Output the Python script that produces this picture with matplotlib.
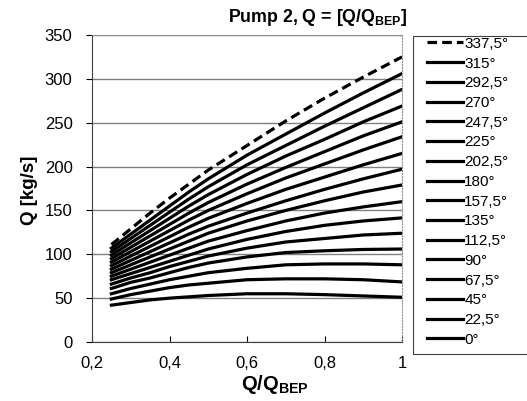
import matplotlib
matplotlib.use("Agg")
from matplotlib import pyplot as plt
from matplotlib.patches import Rectangle

# data
q_ratio = [0.25, 0.3, 0.35, 0.4, 0.45, 0.5, 0.6, 0.7, 0.8, 0.9, 1.0]
angles = ["0°", "22,5°", "45°", "67,5°", "90°", "112,5°", "135°", "157,5°",
          "180°", "202,5°", "225°", "247,5°", "270°", "292,5°", "315°", "337,5°"]
q_0 = [42, 45, 48, 50, 51.5, 53, 55, 55, 54, 52.5, 51]
q_22 = [49, 54, 58, 62, 65, 67, 71, 72, 72, 71, 68.5]
q_45 = [55, 61, 66, 71, 75, 79, 84, 88, 89, 89, 88]
q_67 = [61, 68, 73, 79, 85, 90, 97, 102, 104, 105.5, 106]
q_90 = [66, 73, 79, 86, 92, 98, 107, 114, 118, 122, 124]
q_112 = [71, 78, 85, 92, 99, 106, 117, 126, 133, 138, 141.5]
q_135 = [75, 83, 91, 99, 107, 115, 127, 138, 147, 154, 160]
q_157 = [79, 88, 97, 106, 115, 124, 138, 150, 161, 171, 179]
q_180 = [83, 93, 103, 113, 123, 132, 147, 161, 174, 186, 197]
q_202 = [87, 98, 109, 120, 131, 141, 158, 174, 188, 202, 215]
q_225 = [91, 103, 115, 127, 139, 150, 169, 187, 203, 219, 234]
q_247 = [95, 108, 121, 134, 147, 159, 180, 199, 217, 235, 251]
q_270 = [99, 113, 127, 141, 155, 168, 191, 212, 231, 251, 269]
q_292 = [103, 118, 133, 148, 163, 177, 202, 224, 246, 267, 288]
q_315 = [107, 123, 139, 155, 171, 186, 213, 237, 261, 284, 306]
q_337 = [111, 129, 147, 164, 180, 196, 224, 252, 278, 302, 325]
series = [q_0, q_22, q_45, q_67, q_90, q_112, q_135, q_157,
          q_180, q_202, q_225, q_247, q_270, q_292, q_315, q_337]

yticks = [0, 50, 100, 150, 200, 250, 300, 350]
xticks = [0.2, 0.4, 0.6, 0.8, 1.0]
xtick_labels = ["0,2", "0,4", "0,6", "0,8", "1"]

plt.rcParams['font.family'] = ['Liberation Sans', 'DejaVu Sans']
plt.rcParams['mathtext.fontset'] = 'custom'
plt.rcParams['mathtext.rm'] = 'Liberation Sans'
plt.rcParams['mathtext.bf'] = 'Liberation Sans:bold'

fig = plt.figure(figsize=(5.27, 4.01), dpi=100)
ax = fig.add_axes([92 / 527, 1 - 342 / 401, 310 / 527, 307 / 401])

handles = []
for i, vals in enumerate(series):
    if i == len(series) - 1:
        h, = ax.plot(q_ratio, vals, color='black', lw=2.3, ls=(0, (3, 1.6)))
    else:
        h, = ax.plot(q_ratio, vals, color='black', lw=2.3)
    handles.append(h)

ax.set_xlim(0.2, 1.0)
ax.set_ylim(0, 350)
ax.set_yticks(yticks)
ax.set_xticks(xticks)
ax.set_xticklabels(xtick_labels)
ax.tick_params(axis='y', direction='out', length=4, labelsize=12, pad=10)
ax.tick_params(axis='x', direction='in', length=4, labelsize=12, pad=10)
ax.yaxis.grid(True, color='#808080', lw=1)
ax.set_axisbelow(True)
for s in ['top', 'right']:
    ax.spines[s].set_color('#909090')
    ax.spines[s].set_linestyle(':')
for s in ['left', 'bottom']:
    ax.spines[s].set_color('#404040')

fig.text(318 / 527, 1 - 17 / 401, r"Pump 2, Q = [Q/Q$_\mathbf{BEP}$]",
         ha='center', va='center', fontsize=12.8, fontweight='bold')
fig.text(275 / 527, 1 - 385 / 401, r"Q/Q$_\mathbf{BEP}$",
         ha='center', va='center', fontsize=14.5, fontweight='bold')
fig.text(30 / 527, 1 - 190 / 401, "Q [kg/s]", rotation=90,
         ha='center', va='center', fontsize=13.5, fontweight='bold')

# legend box (frame drawn separately, it runs off the right edge)
fig.patches.append(Rectangle((413 / 527, 1 - 354 / 401), 130 / 527, 318 / 401,
                             transform=fig.transFigure, fill=False,
                             edgecolor='#404040', lw=0.8))
top = 1 - 33 / 401
leg = fig.legend(handles[::-1], angles[::-1], loc='upper left',
                 bbox_to_anchor=(423 / 527, top - 0.01, 100 / 527, 0.01),
                 mode='expand', fontsize=11, handlelength=2.4,
                 handletextpad=0.05, labelspacing=0.375, borderaxespad=0,
                 borderpad=0.25, frameon=False)

plt.savefig('out.png', dpi=100)
